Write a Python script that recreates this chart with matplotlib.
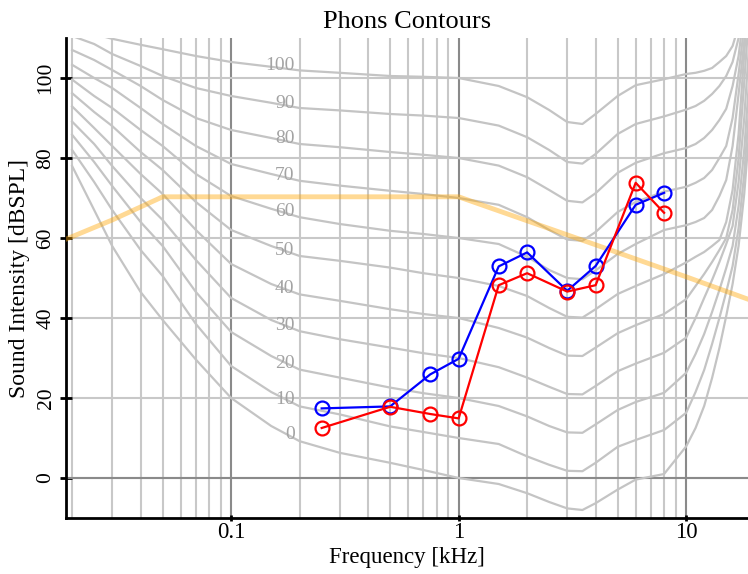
import numpy as np
import matplotlib
matplotlib.use("Agg")
import matplotlib.pyplot as plt
from matplotlib.ticker import LogLocator, FixedLocator, NullFormatter

plt.rcParams['font.family'] = ['Liberation Serif', 'DejaVu Serif']

freqs = [0.02, 0.025, 0.03, 0.04, 0.05, 0.07, 0.1, 0.15, 0.2, 0.3, 0.5, 0.7,
         1, 1.5, 2, 2.5, 3, 3.5, 4, 5, 6, 8, 10, 11, 12, 13, 14, 15, 16, 17, 18, 19]

# equal loudness contours, dB SPL, one list per phon level
phon_0 = [78, 67, 58, 46.5, 39.5, 29.6, 20, 13, 9.2, 6.3, 3.8, 2,
          0, -1.5, -3.8, -6, -7.6, -8, -6.3, -2.9, -0.4, 1, 7.9, 12.5, 18, 25, 32.5, 40.5, 48.5, 58, 71, 88]
phon_10 = [82, 74, 67, 57, 50.5, 38.5, 28, 21.5, 17.9, 15.9, 12.9, 11.5,
           10, 8.5, 5.4, 3.3, 1.8, 1.7, 3.8, 7.8, 9.5, 12, 16.3, 21.5, 27, 33.5, 40, 46.5, 53, 62.5, 76, 94]
phon_20 = [85.8, 79, 73, 64, 58, 46.5, 36.5, 30.5, 27.1, 25.1, 22.6, 21.2,
           20, 18, 15.4, 13, 11.4, 11.3, 13.4, 17, 19, 21.3, 26.3, 31, 36, 41.5, 47, 52.5, 58, 68, 82, 101]
phon_30 = [89.1, 83.5, 78, 70, 64.5, 54.5, 45, 39.5, 36.7, 34.7, 32.6, 31.2,
           30, 27.7, 25.1, 22.8, 21, 20.9, 23, 26.7, 28.6, 31.3, 35.1, 40, 45, 49.5, 54, 58.5, 63, 74, 90, 110]
phon_40 = [92.9, 87.5, 83, 76, 71, 62, 53.5, 48.5, 45.9, 44.3, 42.2, 41,
           40, 37.5, 35.1, 32.5, 30.6, 30.5, 32.6, 36.2, 38.2, 41, 44.7, 48, 51, 54, 57, 60, 67, 80, 99, 118]
phon_50 = [96.2, 91.5, 88, 81.5, 77, 69, 62, 58, 55.5, 54.3, 52.6, 51.2,
           50, 48, 45.5, 42.5, 40.3, 40.1, 42.2, 46, 48, 51, 53.9, 55.3, 56.5, 58, 59.5, 64, 72, 86, 106, 124]
phon_60 = [99.6, 95.5, 92.5, 87, 83, 76, 70.5, 67.3, 65.2, 63.5, 61.8, 61,
           60, 58.5, 55.3, 52, 50, 49.7, 51.9, 56, 58.5, 62, 63.2, 64, 65, 67, 70.5, 74.5, 83, 96, 109, 126]
phon_70 = [103.3, 100, 97.5, 92.5, 88.5, 83, 78.5, 76, 74.3, 73.1, 71.8, 71,
           70, 68.3, 65.2, 62, 59.6, 59.3, 61.5, 66.5, 69, 71.6, 72.8, 73.8, 75, 77, 80, 83, 90, 101, 113, 128]
phon_80 = [107, 104.5, 102, 98, 94.5, 90, 87, 85, 83.5, 82.7, 81.5, 80.8,
           80, 78.1, 75.2, 72, 69.3, 68.9, 71.2, 76.3, 78.8, 81.2, 82.5, 83.5, 85, 87, 89.5, 92.3, 98, 105.5, 117, 130]
phon_90 = [110.5, 108.5, 106, 103, 100.5, 97.5, 95.5, 93.8, 92.5, 91.9, 91, 90.6,
           90, 88.1, 85.2, 82, 79, 78.6, 81, 86, 88.5, 90.4, 92.1, 93, 94.3, 96, 98, 100.5, 104, 110, 120, 132]
phon_100 = [113, 111, 109.8, 108.3, 107.2, 105.5, 104, 102.8, 101.9, 101.3, 100.5, 100.3,
            100, 98, 95.2, 92, 89, 88.5, 91, 95.5, 98.2, 99.7, 101, 101.3, 101.8, 102.5, 104, 105.5, 108, 113, 122, 134]
contours = [phon_0, phon_10, phon_20, phon_30, phon_40, phon_50,
            phon_60, phon_70, phon_80, phon_90, phon_100]
phon_labels = ['0', '10', '20', '30', '40', '50', '60', '70', '80', '90', '100']

# orange reference line
ref_f = [0.0188, 0.03, 0.05, 1, 2, 4, 10, 18.7]
ref_db = [59.7, 64.5, 70.3, 70.3, 64.3, 58.3, 50.3, 44.7]

# measured points
test_f = [0.25, 0.5, 0.75, 1, 1.5, 2, 3, 4, 6, 8]
blue_db = [17.4, 17.9, 25.9, 29.8, 52.9, 56.4, 46.8, 53.0, 68.3, 71.3]
red_db = [12.5, 17.8, 16.0, 14.9, 48.2, 51.2, 46.6, 48.2, 73.8, 66.3]

fig = plt.figure(figsize=(7.48, 5.74), dpi=100)
ax = fig.add_axes([66 / 748, 1 - 518 / 574, 682 / 748, 480 / 574])
ax.set_xscale('log')

for db in contours:
    ax.plot(freqs, db, color='#c4c4c4', lw=1.6, zorder=1)

label_f = 0.19
for db, lab in zip(contours, phon_labels):
    y = np.interp(np.log10(label_f), np.log10(freqs), db)
    ax.text(label_f, y + 1.0, lab, color='#a3a3a3', fontsize=14,
            ha='right', va='center', zorder=2)

ax.plot(ref_f, ref_db, color='orange', alpha=0.42, lw=3.5, zorder=3)

ax.plot(test_f, blue_db, color='blue', lw=1.6, marker='o', ms=10,
        mfc='none', mec='blue', mew=1.6, zorder=4)
ax.plot(test_f, red_db, color='red', lw=1.6, marker='o', ms=10,
        mfc='none', mec='red', mew=1.6, zorder=5)

ax.set_xlim(0.0188, 18.7)
ax.set_ylim(-10, 110)

ax.xaxis.set_major_locator(FixedLocator([0.1, 1, 10]))
ax.set_xticklabels(['0.1', '1', '10'])
ax.xaxis.set_minor_locator(LogLocator(base=10, subs=np.arange(2, 10)))
ax.xaxis.set_minor_formatter(NullFormatter())
ax.set_yticks([0, 20, 40, 60, 80, 100])
for lab in ax.get_yticklabels():
    lab.set_rotation(90)
    lab.set_va('center')

ax.grid(which='minor', axis='x', color='#c8c8c8', lw=1.5)
ax.grid(which='major', axis='x', color='#8a8a8a', lw=1.5)
ax.grid(which='major', axis='y', color='#c8c8c8', lw=1.5)
ax.axhline(0, color='#8a8a8a', lw=1.5, zorder=0.6)
ax.set_axisbelow(True)

ax.tick_params(which='minor', length=0)
ax.tick_params(which='major', direction='inout', length=8, width=2,
               labelsize=15.5, colors='black')
ax.tick_params(axis='x', which='major', length=4, pad=1, labelsize=16.5)

for side in ['top', 'right']:
    ax.spines[side].set_visible(False)
for side in ['left', 'bottom']:
    ax.spines[side].set_linewidth(2)

ax.set_title('Phons Contours', fontsize=19, pad=7)
ax.set_xlabel('Frequency [kHz]', fontsize=16.5, labelpad=3)
ax.set_ylabel('Sound Intensity [dBSPL]', fontsize=17, labelpad=5)

fig.savefig('out.png', dpi=100)
